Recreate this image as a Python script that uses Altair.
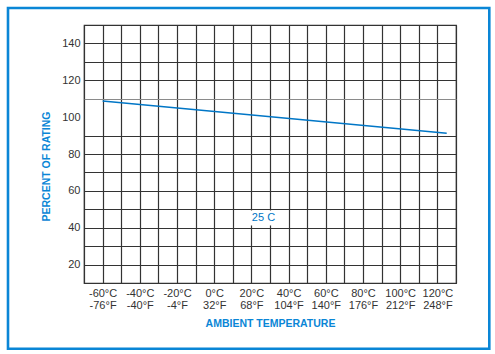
import altair as alt
import pandas as pd

# Data
curve_temp_c = [-60, 125]
curve_percent = [108.7, 91.3]

x_tick_c = [-60, -40, -20, 0, 20, 40, 60, 80, 100, 120]
x_label_c = ["-60°C", "-40°C", "-20°C", "0°C", "20°C", "40°C", "60°C", "80°C", "100°C", "120°C"]
x_label_f = ["-76°F", "-40°F", "-4°F", "32°F", "68°F", "104°F", "140°F", "176°F", "212°F", "248°F"]
x_grid = list(range(-70, 131, 10))

y_tick = [20, 40, 60, 80, 100, 120, 140]
y_grid = list(range(10, 151, 10))

note_text = ["25 C"]
note_x = [26.5]
note_y = [45.3]

BLUE = "#0a86d6"
LINE_BLUE = "#0076c6"
DARK = "#333333"
FONT = "Liberation Sans"

# label expression built from the lists
expr = "''"
for v, c, f in reversed(list(zip(x_tick_c, x_label_c, x_label_f))):
    expr = f"datum.value == {v} ? ['{c}', '{f}'] : ({expr})"
y_expr = " || ".join(f"datum.value == {v}" for v in y_tick)
y_expr = f"({y_expr}) ? datum.label : ''"

curve_df = pd.DataFrame({"temp": curve_temp_c, "pct": curve_percent})
note_df = pd.DataFrame({"temp": note_x, "pct": note_y, "t": note_text})

xscale = alt.Scale(domain=[-70, 130], nice=False, zero=False)
yscale = alt.Scale(domain=[10, 150], nice=False, zero=False)

x_axis = alt.Axis(
    values=x_grid, labelExpr=expr, title="AMBIENT TEMPERATURE",
    grid=True, gridColor=DARK, gridWidth=1.2, domain=False, ticks=False,
    labelFont=FONT, labelFontSize=11, labelColor=DARK, labelPadding=4,
    labelLineHeight=12, labelOverlap=False, labelFlush=False,
    titleFont=FONT, titleFontSize=10.5, titleFontWeight="bold", titleColor=BLUE,
    titlePadding=8,
)
y_axis = alt.Axis(
    values=y_grid, labelExpr=y_expr, title="PERCENT OF RATING",
    grid=True,
    gridColor={"condition": {"test": "datum.value == 110", "value": "#8a8a8a"}, "value": DARK},
    gridOpacity={"condition": {"test": "datum.value == 100", "value": 0}, "value": 1},
    gridWidth=1.2, domain=False, ticks=False,
    labelFont=FONT, labelFontSize=11, labelColor=DARK, labelPadding=4,
    labelOverlap=False, labelFlush=False,
    titleFont=FONT, titleFontSize=10.5, titleFontWeight="bold", titleColor=BLUE,
    titleX=-38, titleY=141, titleAngle=-90, titleBaseline="middle", titleAlign="center",
)

X = alt.X("temp:Q", scale=xscale, axis=x_axis)
Y = alt.Y("pct:Q", scale=yscale, axis=y_axis)

line = alt.Chart(curve_df).mark_line(color=LINE_BLUE, strokeWidth=1.5).encode(x=X, y=Y)

note_bg = alt.Chart(note_df).mark_rect(
    fill="white", width=28, height=15
).encode(x=X, y=Y)

note = alt.Chart(note_df).mark_text(
    color=LINE_BLUE, font=FONT, fontSize=11, align="center", baseline="middle"
).encode(x=X, y=Y, text="t:N")

border = alt.Chart(pd.DataFrame({"a": [0]})).mark_rect(
    fill=None, stroke=BLUE, strokeWidth=2.6, clip=False
).encode(
    x=alt.value(-76), x2=alt.value(405.3),
    y=alt.value(-17), y2=alt.value(323.7),
)

chart = alt.layer(line, note_bg, note, border).properties(
    width=372, height=258,
    autosize=alt.AutoSizeParams(type="none"),
    padding={"left": 84, "top": 25, "right": 39, "bottom": 71},
    background="white",
).configure_view(stroke=DARK, strokeWidth=1.2)

chart.save("out.html", embed_options={"renderer": "svg", "actions": False})
